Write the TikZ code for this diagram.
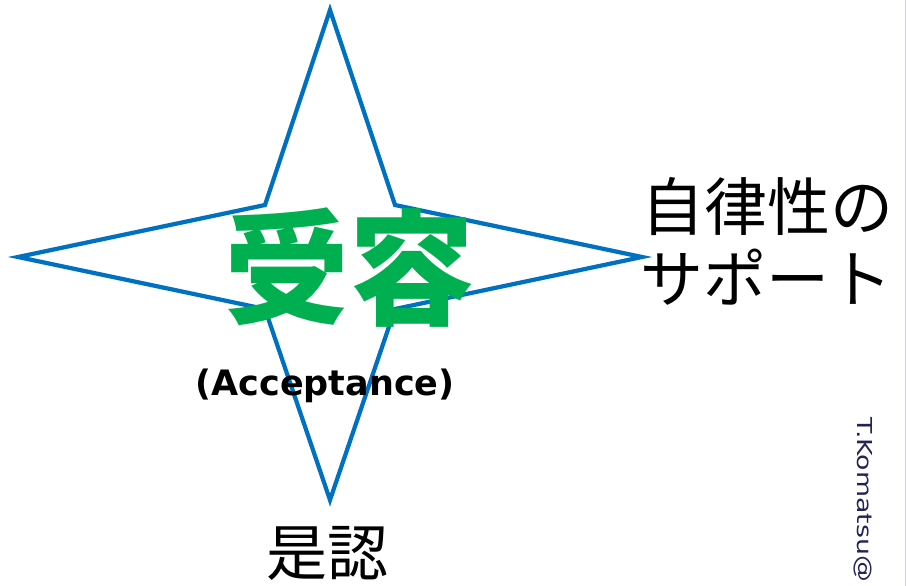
\documentclass[tikz,border=0pt]{standalone}
\usepackage{fontspec}
\newfontfamily\cjk{Noto Sans CJK JP}
\newfontfamily\latinb{DejaVu Sans}
\newfontfamily\widesans[FakeStretch=1.3]{DejaVu Sans}
\definecolor{starblue}{RGB}{0,112,192}
\definecolor{accgreen}{RGB}{0,176,80}
\definecolor{navy}{RGB}{35,35,85}
\definecolor{edgegray}{RGB}{200,210,225}
\tikzset{
  txt/.style={inner sep=0pt, outer sep=0pt},
  starline/.style={draw=starblue, line width=4.2pt, line join=miter}
}
\begin{document}
\begin{tikzpicture}[x=1pt,y=-1pt]
\useasboundingbox (0,0) rectangle (906,586);
\clip (0,0) rectangle (906,586);
\fill[white] (0,0) rectangle (906,586);
\draw[edgegray, line width=1pt] (905.5,0) -- (905.5,586);
% star
\coordinate (top) at (330,10);
\coordinate (ur) at (395,205);
\coordinate (right) at (642,257);
\coordinate (lr) at (395,309);
\coordinate (bottom) at (330,500);
\coordinate (ll) at (265,309);
\coordinate (left) at (18,257);
\coordinate (ul) at (265,205);
\draw[starline] (top) -- (ur) -- (right) -- (lr) -- (bottom) -- (ll) -- (left) -- (ul) -- cycle;
% texts
\node[txt, anchor=base west, text=accgreen, font=\cjk\bfseries\fontsize{125}{130}\selectfont] (juyou) at (224,315) {受容};
\node[txt, anchor=base, font=\latinb\bfseries\fontsize{35}{40}\selectfont] (accept) at (325,395) {(Acceptance)};
\node[txt, anchor=base west, font=\cjk\fontsize{63}{70}\selectfont] (jiritsu) at (641,230) {自律性の};
\node[txt, anchor=base west, font=\cjk\fontsize{63}{70}\selectfont] (support) at (640,302) {サポート};
\node[txt, anchor=base, font=\cjk\fontsize{61}{70}\selectfont] (zenin) at (327,575) {是認};
\node[txt, anchor=base west, rotate=-90, text=navy, font=\widesans\fontsize{20.6}{24}\selectfont] (author) at (857,417) {T.Komatsu@};
\end{tikzpicture}
\end{document}
